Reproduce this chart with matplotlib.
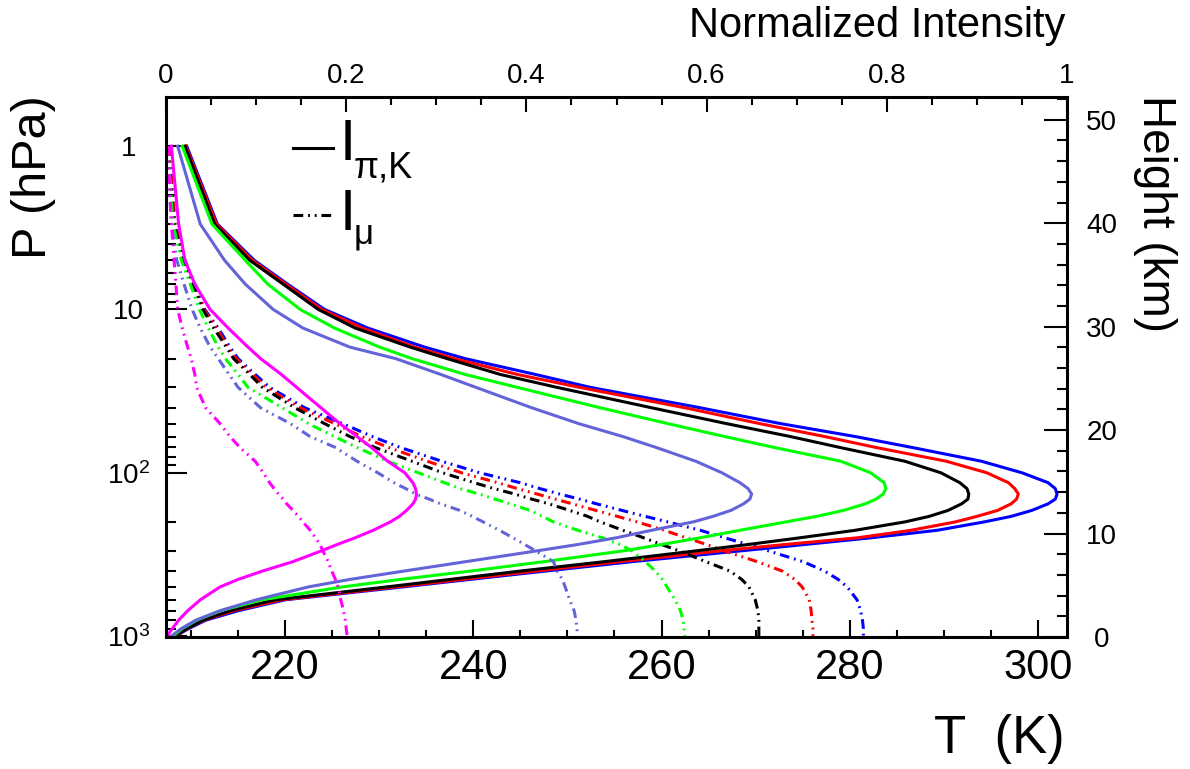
import numpy as np
import matplotlib
matplotlib.use("Agg")
import matplotlib.pyplot as plt
from matplotlib.ticker import MultipleLocator, FixedLocator, FuncFormatter, NullFormatter
from matplotlib.lines import Line2D

plt.rcParams['font.family'] = ['Liberation Sans', 'DejaVu Sans']
plt.rcParams['mathtext.fontset'] = 'custom'
plt.rcParams['mathtext.rm'] = 'Liberation Sans'
plt.rcParams['mathtext.it'] = 'Liberation Sans:italic'
plt.rcParams['lines.scale_dashes'] = False

W, H = 1190, 769

# pressure levels (hPa) at which the curves were read
pressure = [1, 3, 5, 7, 10, 13, 17, 20, 25, 30, 40, 50, 60, 70, 85, 100, 115, 125, 135, 145,
            155, 170, 185, 200, 225, 250, 275, 300, 350, 400, 450, 500, 600, 700, 800, 900, 1000]

# I_pi,K (solid), normalized intensity
blue_pk = [0.023, 0.057, 0.098, 0.135, 0.176, 0.224, 0.287, 0.332, 0.41, 0.471, 0.593, 0.682,
           0.765, 0.828, 0.905, 0.95, 0.979, 0.987, 0.989, 0.987, 0.979, 0.961, 0.938, 0.908,
           0.856, 0.783, 0.709, 0.64, 0.518, 0.421, 0.337, 0.263, 0.132, 0.08, 0.044, 0.025, 0.011]
red_pk = [0.022, 0.056, 0.096, 0.133, 0.173, 0.218, 0.276, 0.32, 0.39, 0.459, 0.576, 0.659,
          0.731, 0.788, 0.866, 0.911, 0.935, 0.942, 0.946, 0.944, 0.938, 0.923, 0.9, 0.876,
          0.827, 0.768, 0.687, 0.617, 0.504, 0.41, 0.329, 0.255, 0.128, 0.075, 0.042, 0.023, 0.011]
black_pk = [0.021, 0.054, 0.093, 0.130, 0.169, 0.21, 0.271, 0.312, 0.371, 0.434, 0.539, 0.622,
            0.693, 0.748, 0.82, 0.86, 0.881, 0.889, 0.891, 0.89, 0.883, 0.868, 0.847, 0.82,
            0.765, 0.704, 0.646, 0.59, 0.487, 0.393, 0.315, 0.245, 0.121, 0.071, 0.041, 0.023, 0.01]
green_pk = [0.018, 0.051, 0.088, 0.113, 0.149, 0.187, 0.237, 0.273, 0.332, 0.39, 0.482, 0.557,
            0.62, 0.675, 0.749, 0.782, 0.797, 0.799, 0.796, 0.788, 0.776, 0.752, 0.722, 0.688,
            0.637, 0.593, 0.55, 0.509, 0.42, 0.338, 0.26, 0.196, 0.106, 0.06, 0.034, 0.018, 0.008]
slate_pk = [0.013, 0.038, 0.065, 0.088, 0.119, 0.152, 0.204, 0.255, 0.305, 0.344, 0.406, 0.458,
            0.507, 0.544, 0.588, 0.617, 0.637, 0.646, 0.65, 0.648, 0.641, 0.627, 0.607, 0.585,
            0.539, 0.5, 0.457, 0.413, 0.333, 0.264, 0.204, 0.158, 0.1, 0.06, 0.033, 0.017, 0.006]
magenta_pk = [0.006, 0.014, 0.021, 0.032, 0.049, 0.069, 0.091, 0.105, 0.128, 0.145, 0.172, 0.193,
              0.212, 0.228, 0.246, 0.265, 0.274, 0.277, 0.278, 0.277, 0.274, 0.267, 0.259, 0.249,
              0.23, 0.21, 0.19, 0.173, 0.141, 0.107, 0.08, 0.06, 0.038, 0.024, 0.014, 0.007, 0.001]

# I_mu (dash-dot-dot)
blue_mu = [0.003, 0.01, 0.021, 0.032, 0.043, 0.058, 0.071, 0.08, 0.099, 0.115, 0.154, 0.196,
           0.229, 0.26, 0.306, 0.348, 0.393, 0.415, 0.437, 0.459, 0.478, 0.506, 0.532, 0.557,
           0.593, 0.62, 0.646, 0.668, 0.707, 0.731, 0.746, 0.756, 0.767, 0.771, 0.773, 0.774, 0.774]
red_mu = [0.003, 0.01, 0.02, 0.031, 0.042, 0.056, 0.069, 0.078, 0.096, 0.111, 0.149, 0.187,
          0.217, 0.247, 0.29, 0.328, 0.368, 0.39, 0.412, 0.432, 0.451, 0.477, 0.501, 0.523,
          0.553, 0.577, 0.6, 0.619, 0.656, 0.684, 0.698, 0.706, 0.714, 0.716, 0.717, 0.718, 0.718]
black_mu = [0.002, 0.009, 0.019, 0.03, 0.041, 0.053, 0.067, 0.075, 0.093, 0.107, 0.143, 0.176,
            0.204, 0.232, 0.273, 0.307, 0.342, 0.364, 0.387, 0.406, 0.425, 0.448, 0.468, 0.482,
            0.507, 0.53, 0.55, 0.569, 0.599, 0.626, 0.639, 0.647, 0.654, 0.657, 0.658, 0.658, 0.658]
green_mu = [0.002, 0.008, 0.017, 0.027, 0.037, 0.047, 0.058, 0.066, 0.08, 0.091, 0.129, 0.158,
            0.187, 0.212, 0.246, 0.28, 0.309, 0.326, 0.348, 0.365, 0.382, 0.404, 0.418, 0.43,
            0.457, 0.484, 0.504, 0.517, 0.532, 0.543, 0.551, 0.556, 0.565, 0.571, 0.574, 0.575, 0.576]
slate_mu = [0.001, 0.006, 0.012, 0.02, 0.029, 0.038, 0.049, 0.058, 0.07, 0.08, 0.105, 0.138,
            0.16, 0.188, 0.212, 0.235, 0.253, 0.266, 0.277, 0.292, 0.305, 0.326, 0.34, 0.352,
            0.37, 0.385, 0.398, 0.41, 0.43, 0.434, 0.44, 0.443, 0.448, 0.453, 0.455, 0.456, 0.457]
magenta_mu = [0.002, 0.006, 0.009, 0.011, 0.013, 0.018, 0.024, 0.028, 0.032, 0.034, 0.044, 0.06,
              0.071, 0.082, 0.099, 0.108, 0.115, 0.12, 0.125, 0.13, 0.134, 0.141, 0.147, 0.152,
              0.16, 0.166, 0.171, 0.174, 0.18, 0.184, 0.188, 0.191, 0.194, 0.197, 0.199, 0.2, 0.201]

colors = ['#0000ff', '#ff0000', '#000000', '#00ff00', '#6464d8', '#ff00ff']
pk_curves = [blue_pk, red_pk, black_pk, green_pk, slate_pk, magenta_pk]
mu_curves = [blue_mu, red_mu, black_mu, green_mu, slate_mu, magenta_mu]

dashdotdot = (0, (7, 3.5, 1.3, 3.5, 1.3, 3.5))

fig = plt.figure(figsize=(W / 100, H / 100), dpi=100)
pos = [166 / W, 1 - 637 / H, 901 / W, 540 / H]

ax = fig.add_axes(pos)
for c, pk, mu in zip(colors, pk_curves, mu_curves):
    ax.plot(pk, pressure, color=c, lw=2.2, solid_joinstyle='round')
    ax.plot(mu, pressure, color=c, lw=2.2, linestyle=dashdotdot)

ax.set_yscale('log')
ax.set_ylim(1013.25, 0.5)
ax.set_xlim(0, 1)

# top axis: normalized intensity
ax.xaxis.tick_top()
ax.xaxis.set_major_locator(MultipleLocator(0.2))
ax.xaxis.set_minor_locator(MultipleLocator(0.05))
ax.xaxis.set_major_formatter(FuncFormatter(lambda v, p: '%g' % round(v, 2)))
ax.tick_params(axis='x', which='major', direction='in', length=10.8, width=1.5,
               labelsize=20, pad=6)
ax.tick_params(axis='x', which='minor', direction='in', length=5.4, width=1.5)

# left axis: pressure (labels centred like ROOT)
ax.yaxis.set_major_locator(FixedLocator([1, 10, 100, 1000]))
ax.yaxis.set_minor_locator(FixedLocator([m * d for d in (1, 10, 100) for m in range(2, 10)]))
ax.yaxis.set_major_formatter(FuncFormatter(
    lambda v, p: {1: '1', 10: '10', 100: r'$10^{2}$', 1000: r'$10^{3}$'}.get(int(round(v)), '')))
ax.yaxis.set_minor_formatter(NullFormatter())
ax.tick_params(axis='y', which='major', direction='in', length=15, width=1.5,
               labelsize=20, pad=27, left=True, right=False)
ax.tick_params(axis='y', which='minor', direction='in', length=7, width=1.5, left=True, right=False)
for t in ax.get_yticklabels():
    t.set_horizontalalignment('center')
for s in ax.spines.values():
    s.set_linewidth(2.2)

# bottom axis: temperature
axT = fig.add_axes(pos, frameon=False)
axT.patch.set_visible(False)
axT.set_xlim(207.35, 303.08)
axT.xaxis.set_major_locator(MultipleLocator(20))
axT.xaxis.set_minor_locator(MultipleLocator(5))
axT.tick_params(axis='x', which='major', direction='in', length=12, width=1.5,
                labelsize=30, pad=8, top=False, bottom=True)
axT.tick_params(axis='x', which='minor', direction='in', length=5, width=1.5, top=False)
axT.set_yticks([])

# right axis: height
axH = fig.add_axes(pos, frameon=False)
axH.patch.set_visible(False)
axH.set_ylim(0, 52.2)
axH.yaxis.tick_right()
axH.yaxis.set_major_locator(MultipleLocator(10))
axH.yaxis.set_minor_locator(MultipleLocator(2))
axH.tick_params(axis='y', which='major', direction='in', length=16.5, width=1.5,
                labelsize=20, pad=25)
axH.tick_params(axis='y', which='minor', direction='in', length=7, width=1.5)
for t in axH.get_yticklabels():
    t.set_horizontalalignment('center')
axH.set_xticks([])


def fp(x, y):
    return x / W, 1 - y / H


# axis titles
fig.text(*fp(1065, 37), 'Normalized Intensity', fontsize=30, ha='right', va='baseline')
fig.text(*fp(1065, 753), 'T  (K)', fontsize=38, ha='right', va='baseline')
fig.text(*fp(33, 95), 'P (hPa)', fontsize=35, rotation=90, ha='center', va='top')
fig.text(*fp(1155, 95), 'Height (km)', fontsize=33, rotation=270, ha='center', va='top')

# legend
fig.add_artist(Line2D([293 / W, 333 / W], [1 - 148 / H, 1 - 148 / H], color='black', lw=2.2))
fig.add_artist(Line2D([293 / W, 333 / W], [1 - 215 / H, 1 - 215 / H], color='black', lw=2.2,
                      linestyle=dashdotdot))
fig.text(*fp(340, 160), 'I', fontsize=42, ha='left', va='baseline')
fig.text(*fp(354, 177), 'π,K', fontsize=26, ha='left', va='baseline')
fig.text(*fp(340, 230), 'I', fontsize=42, ha='left', va='baseline')
fig.text(*fp(354, 243), 'μ', fontsize=25, ha='left', va='baseline')

fig.savefig('out.png', dpi=100)
